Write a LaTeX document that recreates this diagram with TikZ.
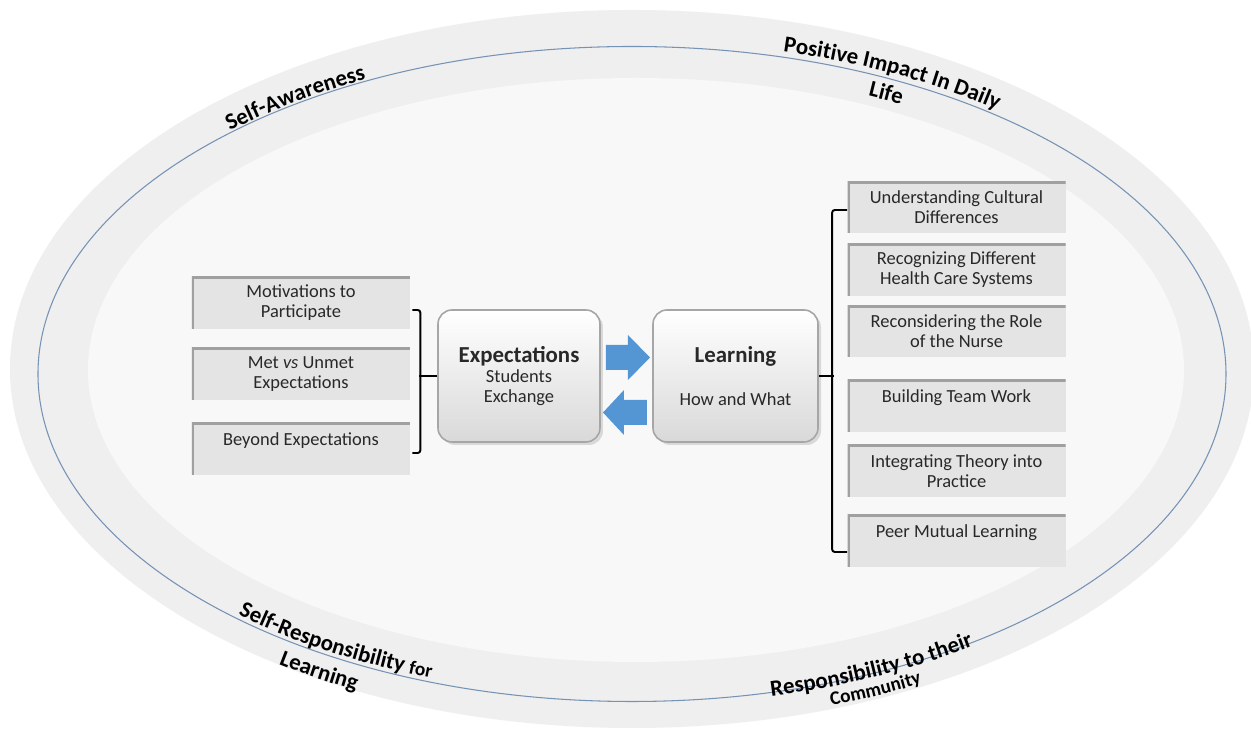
\documentclass[tikz,border=0pt]{standalone}
\usepackage{fontspec}
\setmainfont{Carlito}
\usepackage{tikz}
\usetikzlibrary{decorations.text,shadows}
\definecolor{Anillo}{RGB}{239, 239, 239}
\definecolor{Interior}{RGB}{248, 248, 248}
\definecolor{Linea}{RGB}{118, 146, 180}
\definecolor{Caja}{RGB}{228, 228, 228}
\definecolor{Borde}{RGB}{160, 160, 160}
\definecolor{Texto}{RGB}{40, 40, 40}
\definecolor{Flecha}{RGB}{84, 150, 212}
\newcommand{\etiq}{\fontsize{13}{15}\selectfont\bfseries}
\newcommand{\etiqch}{\fontsize{11}{13}\selectfont\bfseries}
\newcommand{\titulo}{\fontsize{13}{15}\selectfont\bfseries}

\tikzset{
  caja/.style={fill=Caja, minimum width=4.36cm, minimum height=1.04cm, inner sep=0pt,
    align=center, text=Texto, font=\fontsize{10.5}{11.3}\selectfont,
    path picture={\draw[Borde, line width=2.4pt] (path picture bounding box.south west)
      -- (path picture bounding box.north west) -- (path picture bounding box.north east);}},
  centro/.style={rounded corners=8pt, minimum height=2.64cm, inner sep=0pt, align=center,
    top color=white, bottom color=gray!30, draw=gray!70, line width=0.9pt,
    font=\fontsize{10.5}{11.3}\selectfont, text=Texto,
    drop shadow={opacity=0.25, shadow xshift=0.6mm, shadow yshift=-0.6mm}},
  llave/.style={line width=1.1pt, rounded corners=1.5pt},
  anillo/.style={decorate, decoration={text along path, text align=center, text={#1}}}
}

\begin{document}
\begin{tikzpicture}
   	\useasboundingbox (-12.64,-7.14) rectangle (12.38,7.48);
   	\fill[white] (-12.64,-7.14) rectangle (12.38,7.48);

	%Anillo exterior, linea azul y zona interior
   	\fill[Anillo] (0,0.1) ellipse (12.44 and 7.18);
   	\fill[Interior] (0.08,0.08) ellipse (10.96 and 5.84);
   	\draw[Linea, line width=0.6pt] (0,0) ellipse (11.88 and 6.55);

	%Textos arriba
   	\path[anillo={|\etiq|Self-Awareness}] (145.7:11.92 and 6.59)
   		arc[start angle=145.7, end angle=105.7, x radius=11.92, y radius=6.59];
   	\path[anillo={|\etiq|Positive Impact In Daily}] (87.6:12.0 and 6.67)
   		arc[start angle=87.6, end angle=37.6, x radius=12.0, y radius=6.67];
   	\path[anillo={|\etiq|Life}] (73.5:11.44 and 6.11)
   		arc[start angle=73.5, end angle=53.5, x radius=11.44, y radius=6.11];

	%Textos abajo
   	\path[anillo={|\etiq|Self-Responsibility |\etiqch|for}] (213:11.8 and 6.47)
   		arc[start angle=213, end angle=262, x radius=11.8, y radius=6.47];
   	\path[anillo={|\etiq|Learning}] (227:12.4 and 7.07)
   		arc[start angle=227, end angle=251, x radius=12.4, y radius=7.07];
   	\path[anillo={|\etiq|Responsibility to their}] (271.8:11.96 and 6.63)
   		arc[start angle=271.8, end angle=318.8, x radius=11.96, y radius=6.63];
   	\path[anillo={|\etiqch|Community}] (280.8:12.34 and 7.01)
   		arc[start angle=280.8, end angle=306.8, x radius=12.34, y radius=7.01];

	%Cajas de la izquierda
   	\node[caja] (mot) at (-6.62,1.42) {Motivations to\\Participate};
   	\node[caja] (metvs) at (-6.62,0) {Met \textit{vs} Unmet\\Expectations};
   	\node[caja] (beyond) at (-6.62,-1.5) {Beyond Expectations\\~};

	%Cajas centrales
   	\node[centro, minimum width=3.24cm] (expect) at (-2.26,-0.04)
   		{{\titulo Expectations}\\Students\\Exchange};
   	\node[centro, minimum width=3.3cm] (learn) at (2.07,-0.04)
   		{{\titulo Learning}\\[13pt]How and What};

	%Cajas de la derecha
   	\node[caja] (und) at (6.49,3.33) {Understanding Cultural\\Differences};
   	\node[caja] (recog) at (6.49,2.08) {Recognizing Different\\Health Care Systems};
   	\node[caja] (recons) at (6.49,0.85) {Reconsidering the Role\\of the Nurse};
   	\node[caja] (team) at (6.49,-0.64) {Building Team Work\\~};
   	\node[caja] (theory) at (6.49,-1.94) {Integrating Theory into\\Practice};
   	\node[caja] (peer) at (6.49,-3.34) {Peer Mutual  Learning\\~};

	%Llaves
   	\draw[llave] ([shift={(0.04,-0.14)}]mot.east) -- ++(0.16,0) |- ([shift={(0.04,-0.08)}]beyond.east);
   	\draw[llave] (expect.west) -- ++(-0.36,0);
   	\draw[llave] ([shift={(0,-0.05)}]und.west) -- ++(-0.3,0) |- ([shift={(0,-0.22)}]peer.west);
   	\draw[llave] (learn.east) -- ++(0.3,0);

	%Flechas azules
   	\fill[Flecha] (-0.52,0.58) -- (-0.08,0.58) -- (-0.08,0.78) -- (0.36,0.33)
   		-- (-0.08,-0.12) -- (-0.08,0.08) -- (-0.52,0.08) -- cycle;
   	\fill[Flecha] (0.30,-0.52) -- (-0.16,-0.52) -- (-0.16,-0.32) -- (-0.58,-0.77)
   		-- (-0.16,-1.22) -- (-0.16,-1.02) -- (0.30,-1.02) -- cycle;
\end{tikzpicture}
\end{document}
